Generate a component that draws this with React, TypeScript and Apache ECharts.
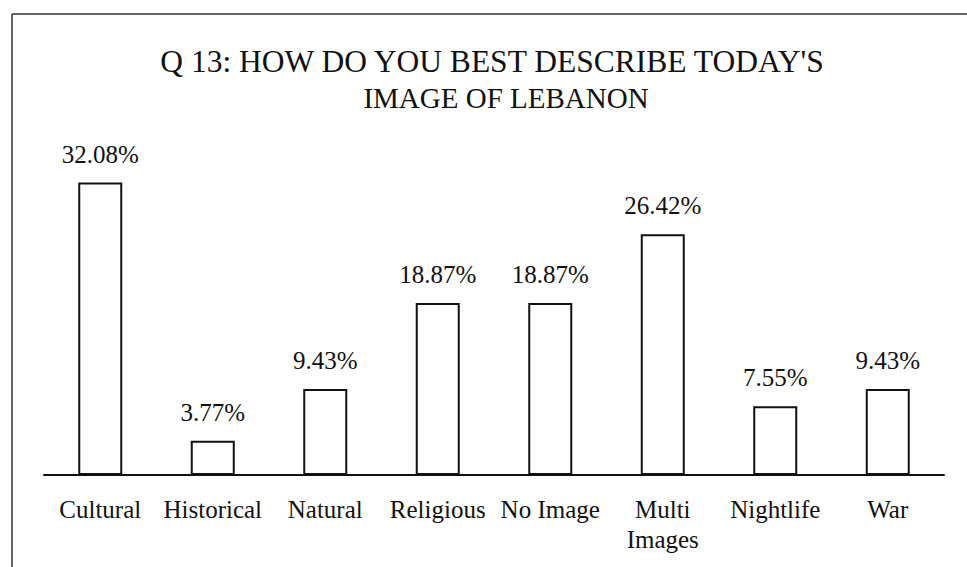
import React, { useEffect, useRef } from "react";
import * as echarts from "echarts";

const categories = ["Cultural", "Historical", "Natural", "Religious", "No Image", "Multi\nImages", "Nightlife", "War"];
const values = [32.08, 3.77, 9.43, 18.87, 18.87, 26.42, 7.55, 9.43];
const titleLines = ["Q 13: HOW DO YOU BEST DESCRIBE TODAY'S", "IMAGE OF LEBANON"];

const FONT = "'Liberation Serif', 'Times New Roman', serif";

export default function App() {
  const ref = useRef<HTMLDivElement>(null);
  useEffect(() => {
    if (!ref.current) return;
    const chart = echarts.init(ref.current, undefined, { renderer: "svg" });
    chart.setOption({
      animation: false,
      backgroundColor: "#ffffff",
      textStyle: { fontFamily: FONT },
      graphic: [
        { type: "line", shape: { x1: 12, y1: 14, x2: 967, y2: 14 }, style: { stroke: "#333", lineWidth: 1.5 } },
        { type: "line", shape: { x1: 12, y1: 14, x2: 12, y2: 567 }, style: { stroke: "#333", lineWidth: 1.5 } },
        {
          type: "text", x: 492, y: 61,
          style: { text: titleLines[0], font: `31.5px ${FONT}`, fill: "#111", align: "center", verticalAlign: "middle" },
        },
        {
          type: "text", x: 506, y: 98,
          style: { text: titleLines[1], font: `29px ${FONT}`, fill: "#111", align: "center", verticalAlign: "middle" },
        },
      ],
      grid: { left: 44, right: 23, top: 156, bottom: 92 },
      xAxis: {
        type: "category",
        data: categories,
        axisLine: { show: true, lineStyle: { color: "#111", width: 2 } },
        axisTick: { show: false },
        axisLabel: { color: "#111", fontSize: 25, fontFamily: FONT, lineHeight: 30, margin: 19, interval: 0 },
      },
      yAxis: {
        type: "value",
        min: 0,
        max: 35,
        show: false,
        splitLine: { show: false },
      },
      series: [
        {
          type: "bar",
          data: values,
          barWidth: 44,
          itemStyle: { color: "#ffffff", borderColor: "#111", borderWidth: 2 },
          label: {
            show: true,
            position: "top",
            distance: 16,
            color: "#111",
            fontSize: 25,
            lineHeight: 25,
            fontFamily: FONT,
            formatter: (p: any) => p.value.toFixed(2) + "%",
          },
        },
      ],
    });
    return () => chart.dispose();
  }, []);
  return <div ref={ref} style={{ position: "fixed", left: 0, top: 0, width: 967, height: 567 }} />;
}
